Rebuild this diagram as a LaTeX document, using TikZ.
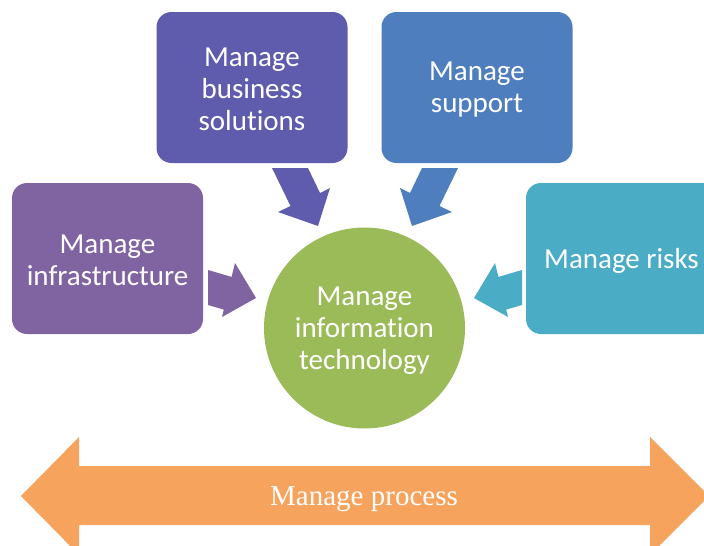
\documentclass[tikz,border=0pt]{standalone}
\usepackage{fontspec}
\setmainfont{Carlito}[RawFeature={-liga}]
\newfontfamily\procfont{Liberation Serif}
\definecolor{cinfra}{HTML}{8064A2}
\definecolor{cbiz}{HTML}{5F5BAD}
\definecolor{csup}{HTML}{4F7EBE}
\definecolor{crisk}{HTML}{4BACC6}
\definecolor{cit}{HTML}{9BBB59}
\definecolor{cproc}{HTML}{F6A35E}
\begin{document}
\begin{tikzpicture}[x=1pt,y=-1pt,
  box/.style={rectangle, rounded corners=15pt, minimum width=191pt, minimum height=151pt, inner sep=0pt},
  hub/.style={circle, minimum size=201pt, fill=cit, inner sep=0pt},
  lbl/.style={text=white, align=center, font=\fontsize{29}{32}\selectfont, inner sep=0pt}]
\useasboundingbox (0,0) rectangle (704,546);
\clip (0,0) rectangle (704,546);
% process double arrow
\fill[cproc] (21,496) -- (79,437) -- (79,466) -- (650,466) -- (650,437) -- (709,496)
  -- (650,555) -- (650,525) -- (79,525) -- (79,555) -- cycle;
\node[text=white, font=\procfont\fontsize{29}{32}\selectfont, inner sep=0pt] (proc) at (364,499) {Manage process};
% block arrows
\fill[cbiz] (272,168) -- (308,168) -- (320,193) -- (330,188) -- (318,226) -- (278,212) -- (290.5,206) -- cycle;
\fill[csup] (458,168) -- (422,168) -- (410,193) -- (400,188) -- (412,226) -- (452,212) -- (439.5,206) -- cycle;
\fill[cinfra] (208,270) -- (231.6,276.9) -- (235,263) -- (256,298) -- (222,317) -- (223.8,309.6) -- (208,305) -- cycle;
\fill[crisk] (522,270) -- (498.4,276.9) -- (495,263) -- (474,298) -- (508,317) -- (506.2,309.6) -- (522,305) -- cycle;
% boxes
\node[box, fill=cinfra] (infra) at (107.5,258.5) {};
\node[box, fill=cbiz] (biz) at (252,87.5) {};
\node[box, fill=csup] (sup) at (477,87.5) {};
\node[box, fill=crisk] (risk) at (621.5,258.5) {};
\node[hub] (it) at (364.5,328) {};
\node[lbl] (infra-t) at (107.5,260.5) {Manage\\infrastructure};
\node[lbl] (biz-t) at (252,89.5) {Manage\\business\\solutions};
\node[lbl] (sup-t) at (477,89.5) {Manage\\support};
\node[lbl] (risk-t) at (621.5,260.5) {Manage risks};
\node[lbl] (it-t) at (364.5,330.5) {Manage\\information\\technology};
\end{tikzpicture}
\end{document}
